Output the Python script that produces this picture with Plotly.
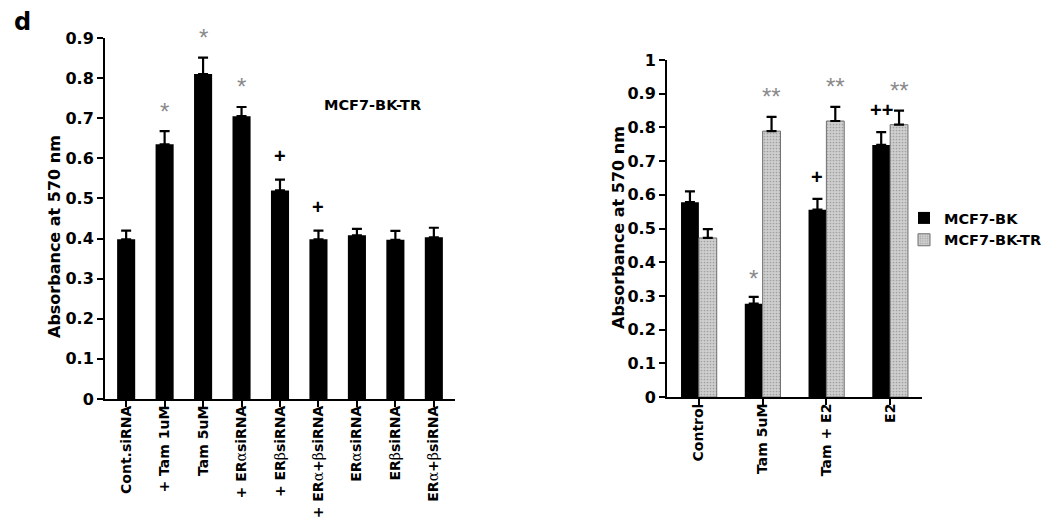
import plotly.graph_objects as go

# ---- Left panel data (MCF7-BK-TR) ----
left_categories = ["Cont.siRNA", "+ Tam 1uM", "Tam 5uM", "+ ERαsiRNA", "+ ERβsiRNA",
                   "+ ERα+βsiRNA", "ERαsiRNA", "ERβsiRNA", "ERα+βsiRNA"]
left_values = [0.398, 0.635, 0.81, 0.705, 0.52, 0.398, 0.408, 0.397, 0.403]
left_errors = [0.022, 0.033, 0.041, 0.023, 0.027, 0.022, 0.016, 0.022, 0.024]
left_marks = ["", "*", "*", "*", "+", "+", "", "", ""]
left_ticks = [0, 0.1, 0.2, 0.3, 0.4, 0.5, 0.6, 0.7, 0.8, 0.9]

# ---- Right panel data ----
right_categories = ["Control", "Tam 5uM", "Tam + E2", "E2"]
bk_values = [0.578, 0.277, 0.556, 0.748]
bk_errors = [0.032, 0.02, 0.032, 0.038]
tr_values = [0.472, 0.789, 0.819, 0.808]
tr_errors = [0.026, 0.042, 0.042, 0.042]
bk_marks = ["", "*", "+", "++"]
tr_marks = ["", "**", "**", "**"]
right_ticks = [0, 0.1, 0.2, 0.3, 0.4, 0.5, 0.6, 0.7, 0.8, 0.9, 1]

FONT = "DejaVu Sans, sans-serif"
MARKFONT = "Liberation Sans, Arial, sans-serif"
W, H = 1050, 526


def fmt_label(s):
    s = s.replace("α", "<span style='font-family:DejaVu Serif;font-weight:normal'>α</span>")
    s = s.replace("β", "<span style='font-family:DejaVu Serif;font-weight:normal'>β</span>")
    return s


def tick_text(vals):
    return ["0" if v == 0 else ("1" if v == 1 else f"{v:.1f}") for v in vals]


fig = go.Figure()

fig.add_trace(go.Bar(
    x=list(range(len(left_categories))), y=left_values,
    width=0.47, marker=dict(color="black", line=dict(width=0)),
    error_y=dict(type="data", array=left_errors, arrayminus=[0] * len(left_errors),
                 color="black", thickness=2.2, width=5),
    showlegend=False, xaxis="x", yaxis="y",
))

fig.add_trace(go.Bar(
    name="MCF7-BK", x=list(range(len(right_categories))), y=bk_values,
    width=0.28, offset=-0.28,
    marker=dict(color="black", line=dict(width=0)),
    error_y=dict(type="data", array=bk_errors, arrayminus=[0] * len(bk_errors),
                 color="black", thickness=2.2, width=5),
    xaxis="x2", yaxis="y2",
))
fig.add_trace(go.Bar(
    name="MCF7-BK-TR", x=list(range(len(right_categories))), y=tr_values,
    width=0.28, offset=0,
    marker=dict(color="#c4c4c4", line=dict(width=1, color="#6f6f6f"),
                pattern=dict(shape=".", fgcolor="#a0a0a0", bgcolor="#cfcfcf",
                             size=3, solidity=0.25, fillmode="replace")),
    error_y=dict(type="data", array=tr_errors, arrayminus=[0] * len(tr_errors),
                 color="black", thickness=2.2, width=5),
    xaxis="x2", yaxis="y2",
))

annotations = []
mark_font_star = dict(family=MARKFONT, size=24, color="#8a8a8a")
mark_font_plus = dict(family=MARKFONT, size=20, color="black", weight="bold")


def mark_font(t):
    return mark_font_star if "*" in t else mark_font_plus


for i, (v, e, t) in enumerate(zip(left_values, left_errors, left_marks)):
    if t:
        annotations.append(dict(x=i, y=v + e, xref="x", yref="y", text=t, showarrow=False,
                                xanchor="center", yanchor="middle",
                                yshift=(20 if "*" in t else 24), font=mark_font(t)))
for i, (v, e, t) in enumerate(zip(bk_values, bk_errors, bk_marks)):
    if t:
        annotations.append(dict(x=i, y=v + e, xref="x2", yref="y2", text=t, showarrow=False,
                                xanchor="center", yanchor="middle",
                                yshift=(18 if "*" in t else 22), xshift=-9, font=mark_font(t)))
for i, (v, e, t) in enumerate(zip(tr_values, tr_errors, tr_marks)):
    if t:
        annotations.append(dict(x=i, y=v + e, xref="x2", yref="y2", text=t, showarrow=False,
                                xanchor="center", yanchor="middle",
                                yshift=20, xshift=9, font=mark_font(t)))

annotations += [
    dict(x=14 / W, y=1 - 14 / H, xref="paper", yref="paper", text="d", showarrow=False,
         xanchor="center", yanchor="middle",
         font=dict(family=FONT, size=24, color="black", weight="bold")),
    dict(x=364 / W, y=1 - 97 / H, xref="paper", yref="paper", text="MCF7-BK-TR", showarrow=False,
         xanchor="center", yanchor="middle",
         font=dict(family=FONT, size=14.5, color="black", weight="bold")),
    dict(x=46 / W, y=1 - 229 / H, xref="paper", yref="paper", text="Absorbance at 570 nm",
         showarrow=False, textangle=-90, xanchor="center", yanchor="middle",
         font=dict(family=FONT, size=16, color="black", weight="bold")),
    dict(x=610 / W, y=1 - 220 / H, xref="paper", yref="paper", text="Absorbance at 570 nm",
         showarrow=False, textangle=-90, xanchor="center", yanchor="middle",
         font=dict(family=FONT, size=16, color="black", weight="bold")),
]

axis_common = dict(showline=True, linecolor="black", linewidth=2, ticks="outside",
                   tickcolor="black", tickwidth=2, ticklen=6, showgrid=False,
                   zeroline=False, automargin=False)
xfont = dict(family=FONT, size=14, color="black", weight="bold")
yfont = dict(family=FONT, size=16, color="black", weight="bold")

fig.update_layout(
    width=W, height=H,
    margin=dict(l=0, r=0, t=0, b=0),
    paper_bgcolor="white", plot_bgcolor="white",
    barmode="group",
    font=dict(family=FONT, color="black"),
    xaxis=dict(domain=[97 / W, 447 / W], range=[-0.55, 8.55], anchor="y",
               tickmode="array", tickvals=list(range(len(left_categories))),
               ticktext=[fmt_label(c) for c in left_categories], tickangle=-90,
               ticklabelstandoff=-7, tickfont=xfont, **axis_common),
    yaxis=dict(domain=[1 - 391 / H, 1 - 30 / H], range=[0, 0.9], anchor="x",
               tickmode="array", tickvals=left_ticks, ticktext=tick_text(left_ticks),
               tickfont=yfont, **axis_common),
    xaxis2=dict(domain=[659 / W, 914 / W], range=[-0.5, 3.5], anchor="y2",
                tickmode="array", tickvals=list(range(len(right_categories))),
                ticktext=right_categories, tickangle=-90, ticklabelstandoff=-7,
                tickfont=xfont, **axis_common),
    yaxis2=dict(domain=[1 - 389 / H, 1 - 52 / H], range=[0, 1], anchor="x2",
                tickmode="array", tickvals=right_ticks, ticktext=tick_text(right_ticks),
                tickfont=yfont, **axis_common),
    legend=dict(x=896 / W, y=1 - 221 / H, xanchor="left", yanchor="middle",
                font=dict(family=FONT, size=14.5, color="black", weight="bold"),
                itemwidth=30, tracegroupgap=0, bgcolor="rgba(0,0,0,0)"),
    annotations=annotations,
)

fig.write_html("out.html")
